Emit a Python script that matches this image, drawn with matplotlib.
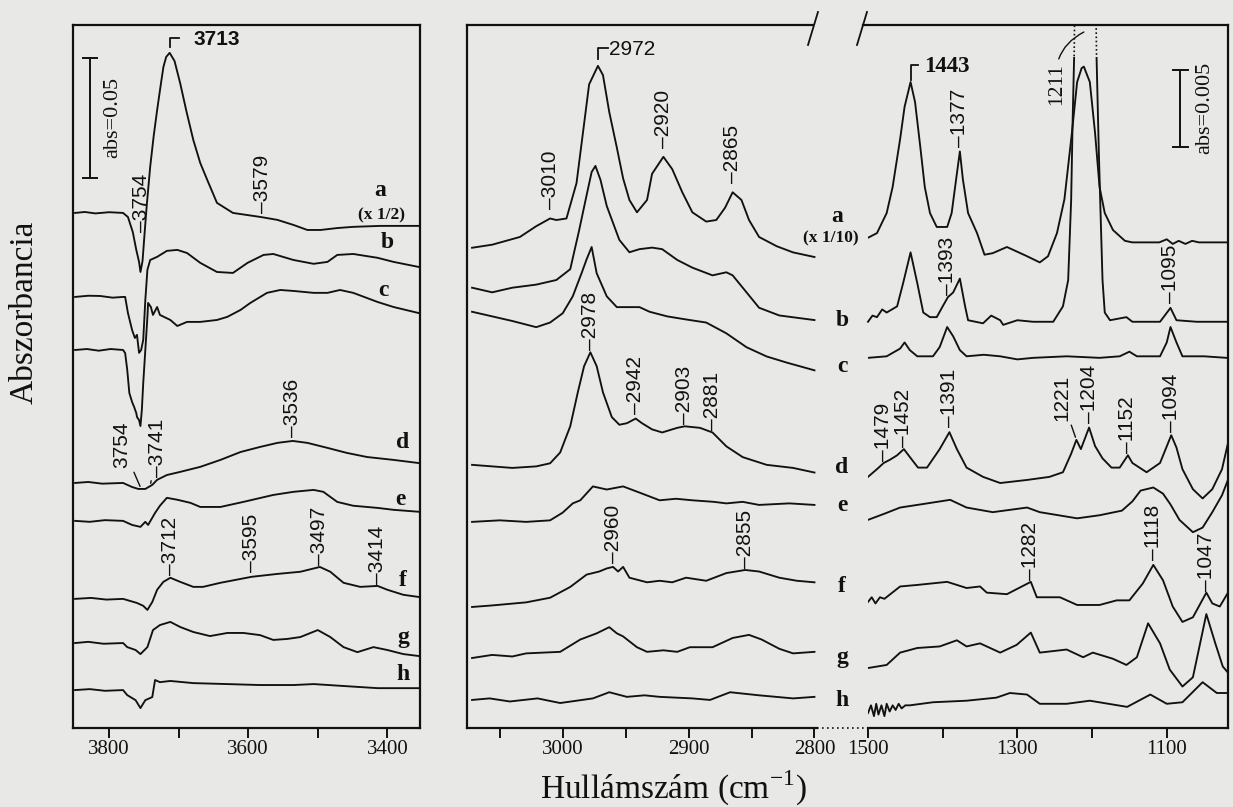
import numpy as np
import matplotlib
matplotlib.use('Agg')
import matplotlib.pyplot as plt
from matplotlib.lines import Line2D
from matplotlib.patches import Rectangle
from matplotlib.transforms import Affine2D, ScaledTranslation, blended_transform_factory

plt.rcParams['font.family'] = ['Liberation Serif', 'DejaVu Serif']
plt.rcParams['mathtext.fontset'] = 'custom'
plt.rcParams['mathtext.rm'] = 'Liberation Serif'

INK = '#111111'
PAPER = '#e8e8e6'
SANS = ['Liberation Sans', 'DejaVu Sans']

# --- O-H region, mAbs above each trace's own baseline: (wavenumber, value)
oh_a = [(3849, 0), (3835, 0.4), (3820, -0.2), (3800, 0.3), (3780, 0), (3773, -1.7), (3766, -8.0),
        (3761, -15.4), (3757, -20.4), (3755, -24.6), (3752, -20.0), (3749, -8.3), (3746, 3.0),
        (3741, 19.2), (3736, 32.0), (3731, 42.9), (3726, 53.0), (3722, 60.8), (3718, 65.0),
        (3713, 66.7), (3706, 63.3), (3698, 54.2), (3689, 42.5), (3679, 30.4), (3669, 20.8),
        (3659, 13.8), (3645, 4.2), (3622, 0), (3582, -1.7), (3558, -2.9), (3535, -5.0),
        (3515, -7.1), (3496, -7.1), (3472, -6.3), (3449, -5.8), (3410, -5.4), (3353, -5.4)]
oh_b = [(3849, 0), (3830, 0.5), (3813, 0.4), (3795, -0.3), (3780, 0), (3777, 0), (3773, -6.7),
        (3767, -13.8), (3763, -17.1), (3760, -15.8), (3757, -23.3), (3754, -22.1), (3751, -17.9),
        (3748, -1.3), (3745, 11.3), (3741, 15.4), (3731, 16.7), (3717, 19.2), (3702, 19.6),
        (3688, 18.3), (3669, 14.2), (3645, 10.4), (3622, 10.0), (3601, 14.2), (3578, 17.5),
        (3564, 17.9), (3535, 15.4), (3506, 13.8), (3486, 14.6), (3472, 17.5), (3449, 17.9),
        (3414, 16.3), (3391, 14.6), (3355, 12.5)]
oh_c = [(3849, 0), (3832, 0.4), (3815, -0.3), (3798, 0.4), (3780, 0), (3777, -1.3), (3774, -8.3),
        (3771, -17.9), (3767, -21.7), (3764, -23.8), (3761, -26.3), (3760, -27.9), (3757, -29.2),
        (3755, -31.7), (3753, -25.0), (3751, -13.8), (3748, 0), (3745, 13.8), (3744, 19.6),
        (3740, 17.9), (3737, 14.6), (3731, 17.9), (3727, 14.6), (3712, 12.5), (3702, 10.0),
        (3688, 11.7), (3669, 11.7), (3645, 12.5), (3630, 13.8), (3611, 16.7), (3597, 19.6),
        (3573, 23.8), (3554, 25.0), (3535, 24.6), (3506, 23.8), (3486, 23.8), (3468, 25.0),
        (3449, 23.8), (3414, 20.0), (3391, 17.9), (3355, 15.4)]
oh_d = [(3849, 0), (3830, 0.4), (3810, -0.3), (3780, 0), (3767, -1.7), (3758, -2.5), (3748, -2.5),
        (3738, -0.8), (3731, 1.3), (3717, 3.3), (3698, 4.6), (3669, 6.7), (3640, 9.6),
        (3611, 12.9), (3583, 15.0), (3558, 16.7), (3536, 17.5), (3515, 16.7), (3486, 14.6),
        (3458, 12.5), (3429, 10.8), (3391, 9.6), (3355, 8.3)]
oh_e = [(3849, 0), (3828, -0.4), (3806, 0.3), (3780, 0), (3767, -1.7), (3755, -2.5), (3748, -0.4),
        (3744, -1.7), (3734, 3.3), (3727, 6.3), (3717, 9.6), (3702, 8.8), (3683, 7.5),
        (3669, 5.8), (3640, 5.8), (3607, 7.9), (3564, 10.8), (3535, 12.1), (3506, 12.9),
        (3492, 12.1), (3472, 7.9), (3449, 6.3), (3414, 5.4), (3391, 4.6), (3355, 3.8)]
oh_f = [(3849, 0), (3826, 0.4), (3804, -0.3), (3780, 0), (3760, -1.7), (3751, -2.9), (3745, -4.6),
        (3738, -1.3), (3731, 3.8), (3722, 7.1), (3712, 8.8), (3698, 7.1), (3679, 5.0),
        (3665, 5.0), (3640, 6.7), (3595, 9.2), (3558, 10.4), (3525, 11.3), (3497, 13.3),
        (3482, 11.3), (3463, 6.7), (3439, 5.0), (3414, 5.4), (3400, 3.8), (3377, 1.7), (3355, 0.8)]
oh_g = [(3849, 0), (3830, 0.5), (3808, -0.3), (3780, 0), (3774, -1.7), (3762, -2.9), (3755, -4.6),
        (3745, -1.7), (3737, 5.4), (3727, 7.5), (3712, 8.8), (3698, 6.7), (3679, 4.6),
        (3655, 2.9), (3630, 4.2), (3607, 4.2), (3583, 3.3), (3564, 1.3), (3544, 1.7),
        (3525, 2.5), (3500, 5.4), (3482, 2.5), (3463, -1.7), (3443, -3.8), (3420, -1.7),
        (3400, -2.9), (3377, -4.6), (3355, -5.4)]
oh_h = [(3849, 0), (3828, 0.4), (3806, -0.3), (3780, 0), (3774, -2.1), (3762, -4.2), (3755, -7.5),
        (3748, -4.2), (3738, -2.9), (3734, 4.2), (3727, 3.3), (3712, 3.8), (3679, 2.9),
        (3630, 2.5), (3583, 2.1), (3535, 2.1), (3506, 2.5), (3463, 1.7), (3414, 0.8), (3355, 0.8)]

# --- C-H stretching region
ch_a = [(3072, 0), (3056, 0.2), (3034, 0.7), (3021, 1.4), (3010, 1.9), (3005, 1.8), (2997, 1.9),
        (2989, 4.2), (2984, 7.4), (2979, 10.6), (2972, 11.8), (2968, 11.2), (2963, 8.8),
        (2957, 6.5), (2952, 4.5), (2947, 3.1), (2941, 2.3), (2933, 3.1), (2929, 4.8),
        (2920, 5.9), (2913, 5.1), (2905, 3.6), (2897, 2.3), (2886, 1.7), (2878, 1.8),
        (2871, 2.6), (2865, 3.6), (2858, 3.1), (2852, 1.8), (2844, 0.7), (2830, 0.1),
        (2817, -0.3), (2800, -0.6)]
ch_b = [(3072, 0), (3056, -0.3), (3040, 0), (3021, 0.2), (3005, 0.5), (2994, 1.2), (2987, 3.7),
        (2981, 6.0), (2977, 7.5), (2974, 7.9), (2970, 7.0), (2965, 5.3), (2955, 3.1),
        (2947, 2.3), (2939, 2.5), (2929, 2.6), (2921, 2.5), (2909, 1.8), (2897, 1.3),
        (2881, 0.8), (2870, 1.0), (2865, 0.8), (2854, -0.3), (2844, -1.3), (2828, -1.8),
        (2800, -2.1)]
ch_c = [(3072, 0), (3056, -0.3), (3040, -0.6), (3021, -1.0), (3010, -0.7), (3000, -0.1),
        (2992, 1.0), (2985, 2.5), (2981, 3.4), (2977, 4.2), (2973, 2.5), (2965, 1.0),
        (2957, 0.3), (2949, 0.3), (2939, 0.3), (2931, 0), (2917, -0.3), (2902, -0.5),
        (2886, -0.7), (2870, -1.4), (2854, -2.3), (2838, -2.9), (2822, -3.3), (2800, -3.8)]
ch_d = [(3072, 0), (3056, -0.1), (3040, -0.2), (3021, -0.1), (3010, 0.1), (3002, 0.8),
        (2994, 2.5), (2988, 4.7), (2983, 6.4), (2978, 7.3), (2973, 6.4), (2968, 4.7),
        (2961, 3.1), (2955, 2.6), (2949, 2.7), (2942, 3.0), (2937, 2.7), (2929, 2.3),
        (2921, 2.1), (2909, 2.4), (2903, 2.5), (2891, 2.4), (2881, 2.1), (2870, 1.2),
        (2857, 0.5), (2838, 0), (2817, -0.2), (2800, -0.5)]
ch_e = [(3072, 0), (3050, 0.1), (3029, 0), (3010, 0.1), (3000, 0.6), (2992, 1.2), (2986, 1.4),
        (2976, 2.3), (2965, 2.1), (2952, 2.3), (2939, 1.9), (2923, 1.4), (2910, 1.5),
        (2897, 1.4), (2880, 1.3), (2870, 1.2), (2857, 1.3), (2844, 1.1), (2820, 1.2), (2800, 1.1)]
ch_f = [(3072, 0), (3056, 0.1), (3029, 0.3), (3010, 0.6), (2994, 1.3), (2981, 2.1),
        (2971, 2.3), (2965, 2.5), (2960, 2.6), (2956, 2.3), (2952, 2.6), (2947, 1.9),
        (2933, 1.6), (2923, 1.7), (2913, 1.6), (2902, 1.9), (2886, 1.7), (2870, 2.2),
        (2855, 2.4), (2844, 2.3), (2828, 1.9), (2814, 1.7), (2800, 1.6)]
ch_g = [(3072, 0), (3056, 0.2), (3040, 0.1), (3029, 0.3), (3002, 0.4), (2986, 1.2), (2973, 1.6),
        (2963, 2.0), (2957, 1.6), (2952, 1.4), (2941, 0.7), (2933, 0.4), (2920, 0.5),
        (2909, 0.4), (2899, 0.7), (2881, 0.7), (2865, 1.3), (2852, 1.5), (2842, 1.2),
        (2828, 0.6), (2817, 0.3), (2800, 0.4)]
ch_h = [(3072, 0), (3058, 0.1), (3042, -0.1), (3020, 0.1), (3002, -0.2), (2976, 0.1), (2963, 0.5),
        (2949, 0.2), (2935, 0.3), (2923, 0.2), (2897, 0.1), (2883, 0), (2867, 0.5),
        (2844, 0.3), (2817, 0.1), (2800, 0.2)]

# --- fingerprint region
fp_a = [(1500, 0), (1488, 0.3), (1475, 1.6), (1467, 3.3), (1457, 6.4), (1451, 8.5),
        (1443, 10.1), (1437, 8.8), (1430, 5.9), (1424, 3.3), (1417, 1.6), (1408, 0.7),
        (1394, 0.7), (1388, 1.6), (1382, 3.8), (1377, 5.6), (1373, 3.8), (1366, 1.6),
        (1354, 0.3), (1344, -1.1), (1333, -1.0), (1314, -0.6), (1287, -1.2), (1270, -1.6),
        (1259, -1.2), (1247, 0.3), (1237, 2.5), (1227, 6.8), (1220, 10.1), (1214, 11.0),
        (1211, 11.1), (1203, 10.1), (1196, 6.8), (1190, 3.3), (1183, 1.6), (1172, 0.5),
        (1156, -0.2), (1146, -0.3), (1110, -0.3), (1100, -0.1), (1092, -0.4), (1084, -0.2),
        (1075, -0.4), (1066, -0.2), (1057, -0.3), (1020, -0.3)]
# b: the 1211 band runs off scale; the points past 19.3 lie beyond the frame
fp_b = [(1500, 0), (1494, 0.4), (1488, 0.3), (1481, 0.8), (1475, 0.6), (1461, 1.0), (1453, 2.5),
        (1443, 4.5), (1434, 2.5), (1426, 0.6), (1417, 0.3), (1408, 0.3), (1400, 1.0),
        (1393, 1.6), (1386, 1.9), (1377, 2.8), (1370, 1.0), (1366, 0.1), (1346, -0.1),
        (1335, 0.4), (1323, 0.1), (1319, -0.2), (1300, 0.1), (1279, 0), (1252, 0), (1239, 1.0),
        (1232, 2.7), (1228, 7.9), (1226, 13.1), (1224, 17.2), (1223, 21.0), (1195, 21.0),
        (1194, 17.2), (1191, 11.1), (1188, 6.0), (1186, 2.7), (1183, 0.6), (1176, 0.1),
        (1154, 0.3), (1146, 0), (1109, 0), (1095, 0.9), (1087, 0.1), (1060, 0), (1020, 0)]
fp_c = [(1500, 0), (1475, 0.1), (1457, 0.6), (1451, 1.0), (1444, 0.5), (1434, 0.1), (1413, 0.1),
        (1404, 0.7), (1394, 2.0), (1386, 1.4), (1377, 0.5), (1368, 0.1), (1345, 0.2),
        (1323, 0.1), (1300, -0.1), (1279, 0), (1234, 0.1), (1190, 0), (1163, 0.1), (1150, 0.4),
        (1140, 0.1), (1109, 0.1), (1100, 1.0), (1095, 2.0), (1087, 1.0), (1079, 0.1), (1050, 0.1),
        (1020, 0)]
fp_d = [(1500, 0), (1488, 0.5), (1479, 0.9), (1471, 1.1), (1461, 1.4), (1452, 1.8), (1441, 1.1),
        (1433, 0.6), (1421, 0.6), (1404, 1.8), (1391, 2.9), (1381, 1.8), (1368, 0.6),
        (1346, 0), (1323, -0.4), (1287, -0.2), (1257, 0), (1239, 0.3), (1228, 1.5),
        (1221, 2.4), (1215, 1.8), (1204, 3.2), (1196, 2.0), (1186, 1.2), (1174, 0.6),
        (1163, 0.6), (1152, 1.4), (1146, 0.9), (1127, 0.3), (1109, 0.9), (1094, 2.7),
        (1087, 1.9), (1079, 0.5), (1065, -0.8), (1052, -1.4), (1039, -0.8), (1026, 0.5),
        (1018, 2.2)]
fp_e = [(1500, 0), (1478, 0.4), (1457, 0.8), (1430, 1.0), (1390, 1.3), (1368, 0.8), (1333, 0.5),
        (1287, 0.8), (1270, 0.5), (1220, 0.1), (1190, 0.3), (1160, 0.6), (1146, 1.2), (1135, 1.9),
        (1118, 2.1), (1105, 1.7), (1095, 1.0), (1083, 0), (1065, -0.8), (1052, -0.5),
        (1039, 0.5), (1026, 1.6), (1018, 2.6)]
fp_f = [(1500, 0), (1495, 0.3), (1490, -0.1), (1484, 0.3), (1478, 0.2), (1457, 1.0), (1434, 1.1),
        (1394, 1.3), (1368, 0.9), (1350, 1.0), (1341, 0.6), (1314, 0.5), (1282, 1.3),
        (1274, 0.3), (1243, 0.3), (1220, -0.2), (1190, -0.2), (1167, 0.1), (1150, 0.1),
        (1132, 1.2), (1118, 2.4), (1105, 1.4), (1092, -0.3), (1079, -1.3), (1065, -1.0),
        (1047, 0.6), (1039, -0.1), (1029, -0.3), (1018, 0.6)]
fp_g = [(1500, 0), (1475, 0.2), (1457, 1.0), (1434, 1.3), (1404, 1.4), (1381, 1.8), (1368, 1.4),
        (1350, 1.6), (1323, 1.0), (1301, 1.5), (1282, 2.3), (1270, 1.0), (1234, 1.2),
        (1212, 0.7), (1199, 1.0), (1172, 0.6), (1154, 0.2), (1140, 0.7), (1125, 2.9),
        (1109, 1.6), (1096, -0.1), (1079, -1.2), (1065, -0.6), (1047, 3.5), (1035, 1.6),
        (1025, 0.1), (1018, -0.3)]
fp_h = [(1500, 0), (1496, 0.5), (1492, -0.2), (1489, 0.6), (1486, -0.1), (1482, 0.5),
        (1478, -0.2), (1475, 0.6), (1471, 0.1), (1467, 0.5), (1463, 0.2), (1459, 0.6),
        (1455, 0.3), (1450, 0.5), (1444, 0.5), (1413, 0.7), (1368, 0.8), (1328, 1.0),
        (1310, 1.3), (1287, 1.2), (1270, 0.6), (1234, 0.6), (1203, 0.8), (1153, 0.4),
        (1122, 1.2), (1100, 0.6), (1079, 0.7), (1052, 2.0), (1033, 1.3), (1018, 1.3)]

trace_names = ['a', 'b', 'c', 'd', 'e', 'f', 'g', 'h']
# stacking offsets of the traces (mAbs)
oh_base = [214.6, 179.6, 157.5, 102.1, 86.3, 53.8, 35.4, 15.8]
ch_base = [31.15, 28.56, 27.0, 17.07, 13.37, 7.85, 4.54, 1.82]
fp_base = [31.80, 26.35, 24.01, 16.29, 13.50, 8.18, 3.89, 0.97]

oh_traces = [oh_a, oh_b, oh_c, oh_d, oh_e, oh_f, oh_g, oh_h]
ch_traces = [ch_a, ch_b, ch_c, ch_d, ch_e, ch_f, ch_g, ch_h]
fp_traces = [fp_a, fp_b, fp_c, fp_d, fp_e, fp_f, fp_g, fp_h]

W, H = 1233, 807
fig = plt.figure(figsize=(W / 100, H / 100), dpi=100, facecolor=PAPER)

ax_oh = fig.add_axes([73 / W, 79 / H, 347 / W, 703 / H], facecolor=PAPER)
frame = fig.add_axes([467 / W, 79 / H, 761 / W, 703 / H], facecolor=PAPER)
ax_ch = fig.add_axes([467 / W, 79 / H, 350 / W, 703 / H], facecolor='none')
ax_fp = fig.add_axes([868 / W, 79 / H, 360 / W, 703 / H], facecolor='none')

ax_oh.set_xlim(3852, 3353)
ax_oh.set_ylim(0, 292.9)
ax_ch.set_xlim(3076, 2798)
ax_ch.set_ylim(0, 45.6)
ax_fp.set_xlim(1500, 1018)
ax_fp.set_ylim(0, 45.6)

ax_oh.set_xticks([3800, 3700, 3600, 3500, 3400], ['3800', '', '3600', '', '3400'])
ax_ch.set_xticks([3050, 3000, 2950, 2900, 2850, 2800], ['', '3000', '', '2900', '', '2800'])
ax_fp.set_xticks([1500, 1400, 1300, 1200, 1100], ['1500', '', '1300', '', '1100'])
for ax in (ax_oh, ax_ch, ax_fp):
    ax.set_yticks([])
    ax.tick_params(axis='x', direction='out', length=7.2, width=1.4, pad=1.5,
                   labelsize=15, colors=INK)
for s in ax_oh.spines.values():
    s.set_linewidth(1.6)
    s.set_color(INK)
for ax in (ax_ch, ax_fp):
    for s in ax.spines.values():
        s.set_visible(False)

# right box: shared frame with a broken top edge and a dotted bottom gap
frame.set_xlim(0, 1)
frame.set_ylim(0, 1)
frame.set_xticks([])
frame.set_yticks([])
frame.spines['top'].set_visible(False)
frame.spines['bottom'].set_visible(False)
for side in ('left', 'right'):
    frame.spines[side].set_linewidth(1.6)
    frame.spines[side].set_color(INK)
edge = dict(color=INK, lw=1.6, clip_on=False, solid_capstyle='projecting')
frame.plot([0, 0.4547], [1, 1], **edge)
frame.plot([0.5204, 1], [1, 1], **edge)
frame.plot([0, 0.4599], [0, 0], **edge)
frame.plot([0.5269, 1], [0, 0], **edge)
frame.plot([0.4599, 0.5269], [0, 0], color=INK, lw=1.2, ls=(0, (1, 2)), clip_on=False)
frame.plot([0.4481, 0.4612], [0.9716, 1.0185], color=INK, lw=1.3, clip_on=False)
frame.plot([0.5125, 0.5256], [0.9716, 1.0185], color=INK, lw=1.3, clip_on=False)

LW = 1.35


def level(pts, base, wn):
    x, v = np.array(pts, dtype=float).T
    return base + np.interp(wn, x[::-1], v[::-1])


def draw(ax, traces, bases):
    for pts, base in zip(traces, bases):
        wn, v = np.array(pts, dtype=float).T
        ax.plot(wn, v + base, color=INK, lw=LW, solid_joinstyle='round')


draw(ax_oh, oh_traces, oh_base)
draw(ax_ch, ch_traces, ch_base)
draw(ax_fp, [t for i, t in enumerate(fp_traces) if i != 1],
     [b for i, b in enumerate(fp_base) if i != 1])

# trace b of the fingerprint panel runs off scale at 1211: dotted above the cut
b_cut = 17.2
wn_b, v_b = np.array(fp_b, dtype=float).T
solid, = ax_fp.plot(wn_b, v_b + fp_base[1], color=INK, lw=LW)
solid.set_clip_path(Rectangle((900, 0), 700, fp_base[1] + b_cut, transform=ax_fp.transData))
dots, = ax_fp.plot(wn_b, v_b + fp_base[1], color=INK, lw=1.2, ls=(0, (1, 1.5)))
dots.set_clip_path(Rectangle((900, fp_base[1] + b_cut), 700, 45.6 - fp_base[1] - b_cut,
                             transform=ax_fp.transData))

pk_font = dict(family=SANS, fontsize=15, color=INK)


def peak(ax, pts, base, wn, text, gap):
    ax.annotate(text, xy=(wn, level(pts, base, wn)), xytext=(0, gap),
                textcoords='offset points', rotation=90, ha='center', va='bottom',
                annotation_clip=False, **pk_font)


def bracket(ax, pts, base, wn, text, lo, hi, arm, tx, size=15, **kw):
    y = level(pts, base, wn)
    anchor = Affine2D().scale(fig.dpi / 72) + ScaledTranslation(wn, y, ax.transData)
    ax.add_line(Line2D([0, 0, arm], [lo, hi, hi], transform=anchor, color=INK, lw=1.3,
                       clip_on=False))
    ax.annotate(text, xy=(wn, y), xytext=(tx, hi - 1), textcoords='offset points',
                ha='left', va='center', color=INK, fontsize=size, **kw)


# O-H panel labels
peak(ax_oh, oh_a, oh_base[0], 3754, '–3754', 26)
peak(ax_oh, oh_a, oh_base[0], 3579, '–3579', 3)
peak(ax_oh, oh_d, oh_base[3], 3536, '–3536', 3)
peak(ax_oh, oh_f, oh_base[5], 3712, '–3712', 2)
peak(ax_oh, oh_f, oh_base[5], 3595, '–3595', 3.5)
peak(ax_oh, oh_f, oh_base[5], 3497, '–3497', 1.5)
peak(ax_oh, oh_f, oh_base[5], 3414, '–3414', 1.5)
bracket(ax_oh, oh_a, oh_base[0], 3713, '3713', 4.3, 10.8, 6.5, 17.3,
        family=SANS, fontweight='bold')
lead = dict(arrowstyle='-', color=INK, lw=1.0, shrinkA=1, shrinkB=2)
ax_oh.annotate('3754', xy=(3754, level(oh_d, oh_base[3], 3754)), xytext=(-13.7, 31.7),
               textcoords='offset points', rotation=90, ha='center', va='center',
               arrowprops=lead, **pk_font)
ax_oh.annotate('–3741', xy=(3741, level(oh_d, oh_base[3], 3741)), xytext=(5, 27.8),
               textcoords='offset points', rotation=90, ha='center', va='center',
               arrowprops=lead, **pk_font)

# C-H panel labels
peak(ax_ch, ch_a, ch_base[0], 3010, '–3010', 6.5)
peak(ax_ch, ch_a, ch_base[0], 2920, '–2920', 6.5)
peak(ax_ch, ch_a, ch_base[0], 2865, '–2865', 7)
peak(ax_ch, ch_d, ch_base[3], 2978, '–2978', 1.5)
peak(ax_ch, ch_d, ch_base[3], 2942, '–2942', 3)
peak(ax_ch, ch_d, ch_base[3], 2903, '–2903', 2)
peak(ax_ch, ch_d, ch_base[3], 2881, '–2881', 2)
peak(ax_ch, ch_f, ch_base[5], 2960, '–2960', 3)
peak(ax_ch, ch_f, ch_base[5], 2855, '–2855', 1.5)
bracket(ax_ch, ch_a, ch_base[0], 2972, '2972', 5.0, 13.0, 7.2, 7.9, family=SANS)

# fingerprint panel labels
peak(ax_fp, fp_a, fp_base[0], 1377, '–1377', 3.5)
peak(ax_fp, fp_b, fp_base[1], 1393, '–1393', 1.5)
peak(ax_fp, fp_b, fp_base[1], 1095, '–1095', 3.5)
peak(ax_fp, fp_d, fp_base[3], 1479, '–1479', 1.5)
peak(ax_fp, fp_d, fp_base[3], 1452, '–1452', 1.5)
peak(ax_fp, fp_d, fp_base[3], 1391, '–1391', 4)
peak(ax_fp, fp_d, fp_base[3], 1204, '–1204', 3.5)
peak(ax_fp, fp_d, fp_base[3], 1152, '–1152', 1.5)
peak(ax_fp, fp_d, fp_base[3], 1094, '–1094', 2)
peak(ax_fp, fp_f, fp_base[5], 1282, '–1282', 1.5)
peak(ax_fp, fp_f, fp_base[5], 1118, '–1118', 3.5)
peak(ax_fp, fp_f, fp_base[5], 1047, '–1047', 1.5)
bracket(ax_fp, fp_a, fp_base[0], 1443, '1443', 1.4, 12.2, 5.0, 9.4, size=16.5,
        fontweight='bold')
ax_fp.annotate('1221', xy=(1221, level(fp_d, fp_base[3], 1221)), xytext=(-10.5, 30.2),
               textcoords='offset points', rotation=90, ha='center', va='center',
               arrowprops=lead, **pk_font)
ax_fp.annotate('1211', xy=(1211, 0.99), xycoords=('data', 'axes fraction'),
               xytext=(-19.5, -37.4), textcoords='offset points', rotation=90,
               ha='center', va='center', fontsize=15.5, color=INK,
               arrowprops=dict(arrowstyle='-', color=INK, lw=1.0, shrinkA=1, shrinkB=0,
                               connectionstyle='arc3,rad=-0.35'))

# scale bars
for ax, xf, y0, span, cap, txt_dx, txt in ((ax_oh, 0.049, 229.2, 50, 0.0202, 0.066, 'abs=0.05'),
                                          (ax_fp, 0.867, 37.71, 5, 0.0208, 0.069, 'abs=0.005')):
    tr = blended_transform_factory(ax.transAxes, ax.transData)
    ax.plot([xf, xf], [y0, y0 + span], transform=tr, color=INK, lw=1.4, clip_on=False)
    for yy in (y0, y0 + span):
        ax.plot([xf - cap, xf + cap], [yy, yy], transform=tr, color=INK, lw=1.4, clip_on=False)
    ax.text(xf + txt_dx, y0 + span / 2, txt, transform=tr, rotation=90, ha='center',
            va='center', fontsize=16, color=INK)

# trace letters
lab = dict(fontsize=17, fontweight='bold', color=INK, ha='center', va='center')
small = dict(fontsize=12.5, fontweight='bold', color=INK, ha='center', va='center')
oh_lab_xy = [(380, 191), (387, 243), (383, 290), (403, 443), (400, 500), (403, 580),
             (403, 637), (403, 675)]
mid_lab_xy = [(837, 217), (842, 320), (842, 367), (842, 467), (842, 505), (842, 587),
              (842, 657), (842, 700)]
for name, (x1, y1), (x2, y2) in zip(trace_names, oh_lab_xy, mid_lab_xy):
    fig.text(x1 / W, 1 - y1 / H, name, **lab)
    fig.text(x2 / W, 1 - y2 / H, name, **lab)
fig.text(382 / W, 1 - 215 / H, '(x 1/2)', **small)
fig.text(831 / W, 1 - 238 / H, '(x 1/10)', **small)

fig.text(24 / W, 1 - 312 / H, 'Abszorbancia', rotation=90, ha='center', va='center',
         fontsize=24, color=INK)
fig.text(673 / W, 1 - 788 / H, r'Hullámszám (cm$^{\mathregular{-1}}$)', ha='center',
         va='center', fontsize=24, color=INK)

fig.savefig('out.png', dpi=100, facecolor=PAPER)
